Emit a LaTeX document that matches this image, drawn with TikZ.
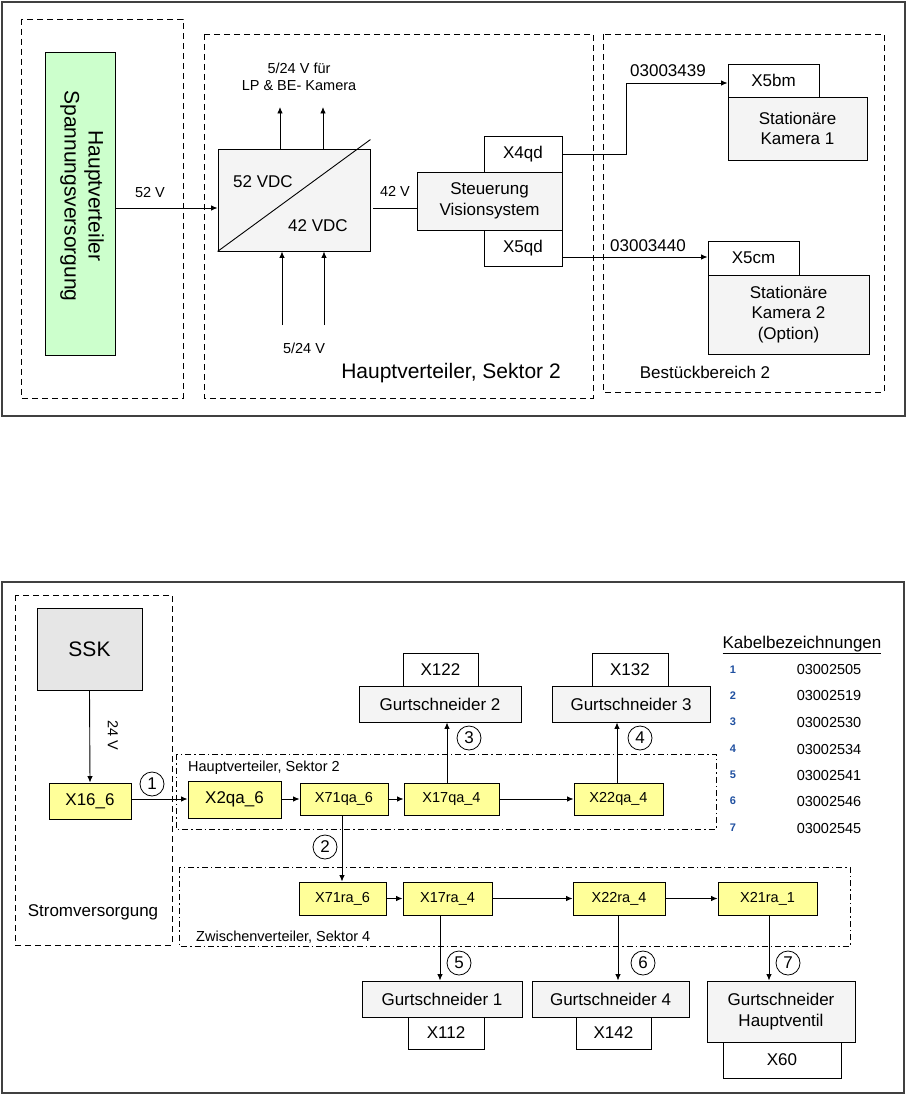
\documentclass[tikz,border=0pt]{standalone}
\usepackage{fontspec}
\setmainfont{Liberation Sans}
\usetikzlibrary{arrows.meta}
\newcommand\fnorm{\fontsize{17}{20.5}\selectfont}
\newcommand\fsmall{\fontsize{14.5}{17.5}\selectfont}
\newcommand\fbig{\fontsize{21}{25}\selectfont}
\newcommand\ftiny{\fontsize{11}{13}\selectfont}
\definecolor{lgrey}{HTML}{F4F4F4}
\definecolor{mgrey}{HTML}{E6E6E6}
\definecolor{lgreen}{HTML}{CCFFCC}
\definecolor{lyellow}{HTML}{FFFF99}
\definecolor{frame}{HTML}{404040}
\definecolor{numblue}{HTML}{2050A0}
\tikzset{
  box/.style={draw, line width=0.9pt, inner sep=0pt, align=center, font=\fnorm},
  gbox/.style={box, fill=lgrey},
  ybox/.style={box, fill=lyellow},
  arr/.style={-{Latex[length=6.5pt,width=5.5pt]}, line width=0.9pt},
  plain/.style={line width=0.9pt},
  dashbox/.style={draw, dash pattern=on 6pt off 4pt, line width=0.9pt},
  dotbox/.style={draw, dash pattern=on 6pt off 3pt on 1.5pt off 3pt, line width=0.9pt},
  outer/.style={draw=frame, line width=1.3pt},
  numc/.style={draw, circle, line width=0.8pt, minimum size=24pt, inner sep=0pt, font=\fnorm},
  lbl/.style={inner sep=0pt, font=\fsmall},
}
\begin{document}
\begin{tikzpicture}[x=1pt,y=-1pt]
\useasboundingbox (0,0) rectangle (908,1097);

% ================= TOP DIAGRAM =================
\draw[outer] (2,2) rectangle (905,416);
\draw[dashbox] (21,19) rectangle (183,398);
\draw[dashbox] (204,34) rectangle (593,398);
\draw[dashbox] (603,34) rectangle (884,392);

\node[box, fill=lgreen, minimum width=70pt, minimum height=303pt] (green) at (80,203.5) {};
\node[rotate=-90, align=center, font=\fbig, inner sep=0pt] (greent) at (82,196) {Hauptverteiler\\[-1pt]Spannungsversorgung};

\node[gbox, minimum width=152pt, minimum height=102pt] (conv) at (294,200) {};
\draw[plain] (conv.south west) -- ([yshift=9pt]conv.north east);
\node[font=\fnorm, inner sep=0pt] (v52) at (263,182) {52 VDC};
\node[font=\fnorm, inner sep=0pt] (v42) at (318,226) {42 VDC};

\node[gbox, minimum width=145pt, minimum height=58pt] (steu) at (489.5,201) {Steuerung\\Visionsystem};
\node[box, fill=white, minimum width=78pt, minimum height=36pt] (x4qd) at (523,154) {X4qd};
\node[box, fill=white, minimum width=78pt, minimum height=36pt] (x5qd) at (523,248) {X5qd};

\node[box, fill=white, minimum width=91pt, minimum height=33pt] (x5bm) at (773.5,80.5) {X5bm};
\node[gbox, minimum width=139pt, minimum height=63pt] (kam1) at (797.5,128.5) {Stationäre\\Kamera 1};
\node[box, fill=white, minimum width=91pt, minimum height=34pt] (x5cm) at (753.5,258) {X5cm};
\node[gbox, minimum width=161pt, minimum height=79pt] (kam2) at (788.5,314.5) {Stationäre\\Kamera 2\\(Option)};

\coordinate (l52) at (0,208);
\draw[arr] (green.east |- l52) -- (conv.west |- l52);
\node[lbl] (t52) at (150,193) {52 V};
\draw[plain] ([xshift=3pt]conv.east |- l52) -- (steu.west |- l52);
\node[lbl] (t42) at (395,191) {42 V};

\coordinate (up1) at (280,107);
\coordinate (up2) at (323,107);
\draw[arr] (conv.north -| up1) -- (up1);
\draw[arr] (conv.north -| up2) -- (up2);
\node[lbl, align=center] (tup) at (299,77) {5/24 V für\\LP \& BE- Kamera};

\coordinate (dn1) at (282,325);
\coordinate (dn2) at (324,325);
\draw[arr] (dn1) -- (conv.south -| dn1);
\draw[arr] (dn2) -- (conv.south -| dn2);
\node[lbl] (tdn) at (304,348) {5/24 V};

\node[font=\fbig, inner sep=0pt] (hv2) at (451,373) {Hauptverteiler, Sektor 2};
\node[font=\fnorm, inner sep=0pt] (bb2) at (705,372) {Bestückbereich 2};

\coordinate (k1a) at (626,154);
\coordinate (k1b) at (626,83);
\draw[arr] (x4qd.east |- k1a) -- (k1a) -- (k1b) -- (x5bm.west |- k1b);
\node[font=\fnorm, inner sep=0pt] (c439) at (668,71) {03003439};
\coordinate (k2a) at (0,257);
\draw[arr] (x5qd.east |- k2a) -- (x5cm.west |- k2a);
\node[font=\fnorm, inner sep=0pt] (c440) at (648,246) {03003440};

% ================= BOTTOM DIAGRAM =================
\draw[outer] (2,582) rectangle (904,1093);
\draw[dashbox] (15,595) rectangle (172,945);
\draw[dotbox] (176,754) rectangle (716,829);
\draw[dotbox] (179,867) rectangle (850,946);

\node[box, fill=mgrey, minimum width=105pt, minimum height=82pt, font=\fbig] (ssk) at (89.5,649) {SSK};
\node[ybox, minimum width=82pt, minimum height=36pt] (x16) at (90,801) {X16\_6};
\node[font=\fnorm, inner sep=0pt] (strom) at (93,912) {Stromversorgung};
\draw[arr] (ssk.south) -- (x16.north);
\node[lbl, rotate=-90] (t24) at (113,735) {24 V};

\node[font=\fsmall, inner sep=0pt, anchor=west] (hvs2) at (188,768) {Hauptverteiler, Sektor 2};
\node[font=\fsmall, inner sep=0pt, anchor=west] (zvs4) at (196,937) {Zwischenverteiler, Sektor 4};

\node[ybox, minimum width=93pt, minimum height=37pt] (x2qa) at (234.5,799.5) {X2qa\_6};
\node[ybox, minimum width=88pt, minimum height=32pt, font=\fsmall] (x71qa) at (344,799) {X71qa\_6};
\node[ybox, minimum width=95pt, minimum height=32pt, font=\fsmall] (x17qa) at (451.5,799) {X17qa\_4};
\node[ybox, minimum width=89pt, minimum height=32pt, font=\fsmall] (x22qa) at (618.5,799) {X22qa\_4};

\node[gbox, minimum width=162pt, minimum height=36pt] (gs2) at (440,704) {Gurtschneider 2};
\node[box, fill=white, minimum width=75pt, minimum height=33pt] (x122) at (440.5,669.5) {X122};
\node[gbox, minimum width=158pt, minimum height=36pt] (gs3) at (631,704) {Gurtschneider 3};
\node[box, fill=white, minimum width=76pt, minimum height=33pt] (x132) at (630,669.5) {X132};

\node[ybox, minimum width=87pt, minimum height=33pt, font=\fsmall] (x71ra) at (342.5,898.5) {X71ra\_6};
\node[ybox, minimum width=89pt, minimum height=33pt, font=\fsmall] (x17ra) at (447.5,898.5) {X17ra\_4};
\node[ybox, minimum width=92pt, minimum height=33pt, font=\fsmall] (x22ra) at (619,898.5) {X22ra\_4};
\node[ybox, minimum width=99pt, minimum height=33pt, font=\fsmall] (x21ra) at (767.5,898.5) {X21ra\_1};

\node[gbox, minimum width=160pt, minimum height=36pt] (gs1) at (442,999) {Gurtschneider 1};
\node[box, fill=white, minimum width=76pt, minimum height=32pt] (x112) at (446,1033) {X112};
\node[gbox, minimum width=157pt, minimum height=36pt] (gs4) at (610.5,999) {Gurtschneider 4};
\node[box, fill=white, minimum width=75pt, minimum height=32pt] (x142) at (613.5,1033) {X142};
\node[gbox, minimum width=148pt, minimum height=61pt] (gsh) at (781,1011.5) {Gurtschneider\\Hauptventil};
\node[box, fill=white, minimum width=118pt, minimum height=36pt] (x60) at (782,1060) {X60};

% horizontal connections
\coordinate (h1) at (0,799);
\draw[arr] (x16.east |- h1) -- (x2qa.west |- h1);
\draw[arr] (x2qa.east |- h1) -- (x71qa.west |- h1);
\draw[arr] (x71qa.east) -- (x17qa.west);
\draw[arr] (x17qa.east) -- (x22qa.west);
\draw[arr] (x71ra.east) -- (x17ra.west);
\draw[arr] (x17ra.east) -- (x22ra.west);
\draw[arr] (x22ra.east) -- (x21ra.west);

% vertical connections
\coordinate (v2) at (342,0);
\draw[arr] (x71qa.south -| v2) -- (x71ra.north -| v2);
\coordinate (v3) at (447,0);
\draw[arr] (x17qa.north -| v3) -- (gs2.south -| v3);
\coordinate (v4) at (617,0);
\draw[arr] (x22qa.north -| v4) -- (gs3.south -| v4);
\coordinate (v5) at (440,0);
\draw[arr] (x17ra.south -| v5) -- (gs1.north -| v5);
\coordinate (v6) at (618,0);
\draw[arr] (x22ra.south -| v6) -- (gs4.north -| v6);
\coordinate (v7) at (769,0);
\draw[arr] (x21ra.south -| v7) -- (gsh.north -| v7);

% numbered circles
\node[numc] (n1) at (152,784) {1};
\node[numc] (n2) at (325,847) {2};
\node[numc] (n3) at (469,738) {3};
\node[numc] (n4) at (640,738) {4};
\node[numc] (n5) at (459,963) {5};
\node[numc] (n6) at (643,963) {6};
\node[numc] (n7) at (788,963) {7};

% legend
\node[font=\fnorm, inner sep=1pt] (leg) at (802,645) {\underline{Kabelbezeichnungen}};
\foreach \i/\y/\v in {1/670/03002505, 2/696/03002519, 3/722/03002530, 4/749/03002534, 5/775/03002541, 6/801/03002546, 7/828/03002545}{
  \node[font=\ftiny\bfseries, text=numblue, inner sep=0pt] (ln\i) at (733,\y) {\i};
  \node[font=\fsmall, inner sep=0pt] (lv\i) at (829,\y) {\v};
}
\end{tikzpicture}
\end{document}
